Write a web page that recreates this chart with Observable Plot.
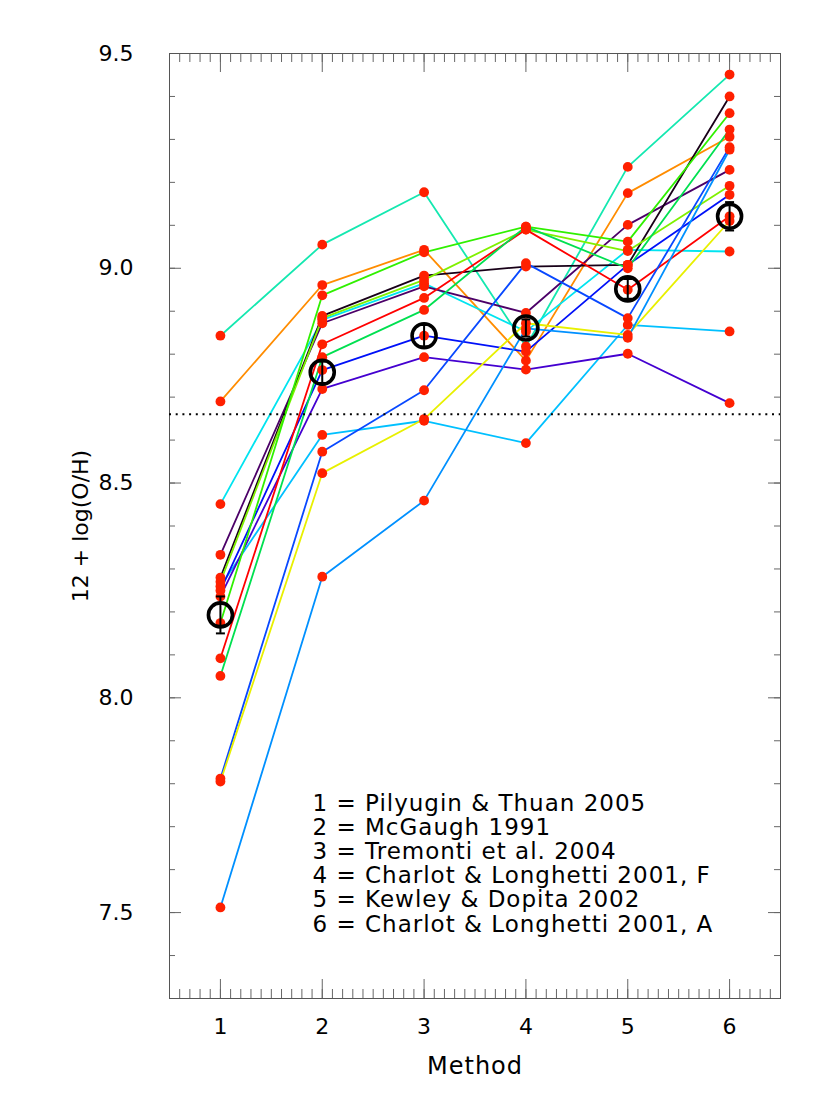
<!DOCTYPE html>
<html><head><meta charset="utf-8">
<script src="https://cdn.jsdelivr.net/npm/d3@7"></script>
<script src="https://cdn.jsdelivr.net/npm/@observablehq/plot@0.6"></script>
<style>body{margin:0;background:#fff;} svg{display:block}</style>
</head><body><div id="chart"></div>
<script>
// ---- data ----
const methods = [1, 2, 3, 4, 5, 6];
const yTickValues = [7.5, 8.0, 8.5, 9.0, 9.5];
const solarValue = 8.66;

const sAquamarine = [8.843, 9.055, 9.177, 8.818, 9.236, 9.451];
const sOrange     = [8.690, 8.961, 9.043, 8.785, 9.175, 9.306];
const sCyan       = [8.451, 8.880, 8.965, 8.853, 9.043, 9.039];
const sPurple     = [8.333, 8.872, 8.958, 8.896, 9.101, 9.229];
const sBlack      = [8.280, 8.889, 8.983, 9.004, 9.008, 9.400];
const sLime       = [8.270, 8.884, 8.973, 9.090, 9.040, 9.192];
const sSky        = [8.260, 8.612, 8.645, 8.593, 8.868, 8.853];
const sBlue       = [8.250, 8.763, 8.843, 8.806, 9.008, 9.171];
const sIndigo     = [8.236, 8.719, 8.793, 8.764, 8.801, 8.686];
const sGreen      = [8.174, 8.937, 9.037, 9.097, 9.062, 9.361];
const sRed        = [8.092, 8.823, 8.931, 9.090, 8.950, 9.121];
const sGreen2     = [8.051, 8.793, 8.903, 9.097, 9.000, 9.323];
const sDodger     = [7.812, 8.573, 8.716, 9.012, 8.884, 9.282];
const sYellow     = [7.805, 8.523, 8.649, 8.872, 8.845, 9.110];
const sLightBlue  = [7.512, 8.282, 8.459, 8.860, 8.838, 9.276];

const meanValues = [8.193, 8.758, 8.843, 8.861, 8.952, 9.121];
const meanErrors = [0.043, 0.025, 0.025, 0.020, 0.023, 0.033];

const legendLines = [
  "1 = Pilyugin & Thuan 2005",
  "2 = McGaugh 1991",
  "3 = Tremonti et al. 2004",
  "4 = Charlot & Longhetti 2001, F",
  "5 = Kewley & Dopita 2002",
  "6 = Charlot & Longhetti 2001, A"
];

const seriesList = [
  [sAquamarine, "#14e8b0"], [sOrange, "#ff8c00"], [sCyan, "#00e4f0"],
  [sPurple, "#4c0068"], [sBlack, "#180018"], [sLime, "#80f000"],
  [sSky, "#00c0ff"], [sBlue, "#0010f8"], [sIndigo, "#4400d0"],
  [sGreen, "#30f000"], [sRed, "#ff0000"], [sGreen2, "#00e050"],
  [sDodger, "#0848ff"], [sYellow, "#e8f000"], [sLightBlue, "#0090ff"]
];

// ---- layout ----
const W = 830, H = 1107, mL = 169, mR = 50, mT = 53, mB = 109;
const innerW = W - mL - mR, innerH = H - mT - mB;
const minorX = d3.range(5, 66).map(i => i / 10);
const minorY = d3.range(73, 96).map(i => i / 10);
const tickColor = "#666";
const fontSize = 22;

const rows = seriesList.flatMap(([vals]) => vals.map((v, i) => ({method: methods[i], value: v})));
const means = meanValues.map((m, i) => ({method: methods[i], m, e: meanErrors[i]}));

const capSymbol = {draw(ctx, size) { const r = Math.sqrt(size / Math.PI); ctx.moveTo(-r, 0); ctx.lineTo(r, 0); }};

const marks = [];
// ticks
marks.push(Plot.tickX(minorX, {x: d => d, insetTop: innerH - 9, stroke: tickColor}));
marks.push(Plot.tickX(minorX, {x: d => d, insetBottom: innerH - 9, stroke: tickColor}));
marks.push(Plot.tickX(methods, {x: d => d, insetTop: innerH - 19, stroke: tickColor}));
marks.push(Plot.tickX(methods, {x: d => d, insetBottom: innerH - 19, stroke: tickColor}));
marks.push(Plot.tickY(minorY, {y: d => d, insetRight: innerW - 6, stroke: tickColor}));
marks.push(Plot.tickY(minorY, {y: d => d, insetLeft: innerW - 6, stroke: tickColor}));
marks.push(Plot.tickY(yTickValues, {y: d => d, insetRight: innerW - 12, stroke: tickColor}));
marks.push(Plot.tickY(yTickValues, {y: d => d, insetLeft: innerW - 12, stroke: tickColor}));
marks.push(Plot.frame({stroke: "#555"}));

// series lines
for (const [vals, color] of seriesList) {
  marks.push(Plot.line(vals, {x: (d, i) => methods[i], y: d => d, stroke: color, strokeWidth: 1.8}));
}
// points
marks.push(Plot.dot(rows, {x: "method", y: "value", r: 4.9, fill: "#ff2000", stroke: null}));
// solar line
marks.push(Plot.ruleY([solarValue], {stroke: "black", strokeWidth: 2, strokeDasharray: "2,4.7"}));
// means with error bars
marks.push(Plot.ruleX(means, {x: "method", y1: d => d.m - d.e, y2: d => d.m + d.e, stroke: "black", strokeWidth: 2}));
marks.push(Plot.dot(means, {x: "method", y: d => d.m + d.e, symbol: capSymbol, r: 4.5, stroke: "black", strokeWidth: 2, fill: "none"}));
marks.push(Plot.dot(means, {x: "method", y: d => d.m - d.e, symbol: capSymbol, r: 4.5, stroke: "black", strokeWidth: 2, fill: "none"}));
marks.push(Plot.dot(means, {x: "method", y: "m", r: 12, stroke: "black", strokeWidth: 3.6, fill: "none"}));

// tick labels & titles
marks.push(Plot.text(yTickValues, {y: d => d, text: d => d.toFixed(1), frameAnchor: "left", dx: -36, textAnchor: "end", fontSize, fill: "black"}));
marks.push(Plot.text(methods, {x: d => d, text: d => String(d), frameAnchor: "bottom", dy: 35, fontSize, fill: "black"}));
marks.push(Plot.text(["Method"], {text: d => d, frameAnchor: "bottom", dy: 75, fontSize: 24, fill: "black"}));
marks.push(Plot.text(["12 + log(O/H)"], {text: d => d, frameAnchor: "left", dx: -89, rotate: -90, textAnchor: "middle", fontSize, fill: "black"}));
marks.push(Plot.text([legendLines.join("\n")], {text: d => d, frameAnchor: "top-left", dx: 143, dy: 740, textAnchor: "start", lineAnchor: "top", lineHeight: 24.2 / 23, fontSize: 23, fill: "black"}));

const chart = Plot.plot({
  width: W, height: H,
  marginLeft: mL, marginRight: mR, marginTop: mT, marginBottom: mB,
  x: {domain: [0.5, 6.5], axis: null},
  y: {domain: [7.3, 9.5], axis: null},
  style: {fontFamily: "DejaVu Sans, sans-serif", background: "white", color: "black"},
  marks
});
// wider letter spacing for the Hershey-like reference lettering
chart.querySelectorAll("text").forEach(t => {
  const s = t.textContent;
  if (s.includes("=") || s === "Method") t.setAttribute("letter-spacing", "1");
});
document.getElementById("chart").appendChild(chart);
</script>
</body></html>
